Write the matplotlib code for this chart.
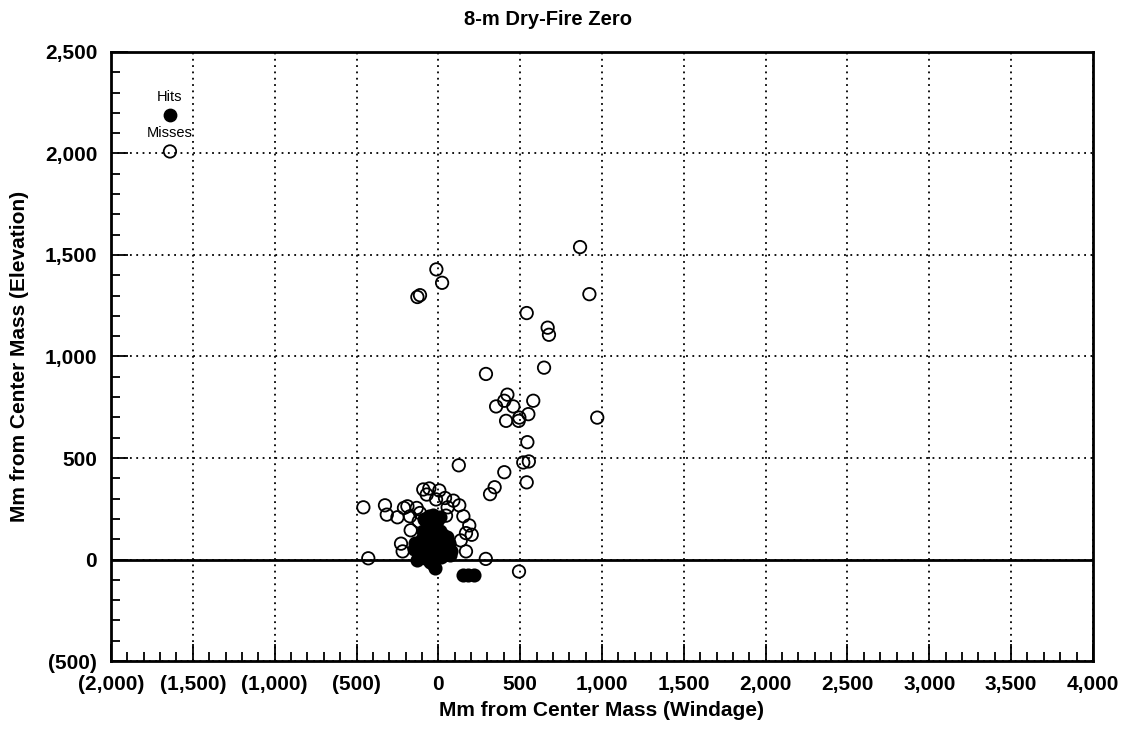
import matplotlib
matplotlib.use("Agg")
from matplotlib import pyplot as plt
from matplotlib.ticker import MultipleLocator, FuncFormatter

plt.rcParams['font.family'] = ['Liberation Sans', 'DejaVu Sans']
plt.rcParams['font.weight'] = 'bold'

# misses (open markers), windage / elevation in mm
miss_x = [866, -12, 23, -128, -112, 923, 540, 668, 676, 646, 291,
          422, 403, 353, 458, 580, 550, 495, 491, 414,
          971, 544, 519, 553, 125, 403, 540, 344, 316, 290, 493,
          -428, -458, -326, -315, -250, -210, -189, -132, -173, -228, -218,
          -169, -92, -55, -71, 6, -14, 41, 92, 128, 57, 47, 153, 189, 204,
          169, 137, 169, -112, -120]
miss_y = [1539, 1429, 1363, 1293, 1302, 1307, 1214, 1142, 1107, 945, 914,
          812, 782, 754, 754, 782, 716, 699, 683, 683,
          699, 578, 478, 483, 464, 430, 380, 356, 322, 3, -59,
          6, 257, 267, 221, 208, 254, 262, 254, 213, 78, 40,
          144, 345, 350, 320, 340, 296, 303, 290, 267, 257, 216, 213, 168, 122,
          130, 94, 40, 229, 188]

# hits (filled markers)
hit_x = [-120, -110, -100, -95, -90, -80, -75, -70, -65, -60, -55, -50, -45,
         -40, -35, -30, -25, -20, -15, -10, -5, 0, 5, 10, 15, 20, 25, 30, 35,
         40, 45, 50, 55, 60, 65, 70, 80, -130, -140, -150, -85, -30, 10, -20,
         -50, 150, 180, 215]
hit_y = [20, 60, 100, 140, 40, 5, 80, 120, 170, 215, 30, 60, 100,
         150, -20, 10, 45, 80, 120, 190, 30, 60, 100, 140, 10, 45, 80, 120, 20,
         60, 95, 30, 110, 50, 80, 20, 40, 0, 80, 50, 200, 220, 210, -40,
         -10, -78, -78, -78]

# legend drawn inside the plot, as in the original
legend_x = -1640
legend_hit_y = 2190
legend_miss_y = 2010


def paren_fmt(v, pos):
    if v < 0:
        return f"({abs(v):,.0f})"
    return f"{v:,.0f}"


fig = plt.figure(figsize=(11.34, 7.30), dpi=100)
ax = fig.add_axes([0.0979, 0.0945, 0.8659, 0.8343])

ax.grid(True, which='major', color='black', linestyle=(0, (1, 2.5)), linewidth=1.3)
ax.axhline(0, color='black', linewidth=2)

ax.scatter(hit_x, hit_y, s=80, marker='o', facecolors='black', edgecolors='black', linewidths=1.2, zorder=3)
ax.scatter(miss_x, miss_y, s=80, marker='o', facecolors='none', edgecolors='black', linewidths=1.3, zorder=4)

ax.scatter([legend_x], [legend_hit_y], s=80, marker='o', facecolors='black', edgecolors='black', zorder=4)
ax.scatter([legend_x], [legend_miss_y], s=80, marker='o', facecolors='none', edgecolors='black', linewidths=1.3, zorder=4)
ax.annotate('Hits', (legend_x, legend_hit_y), xytext=(0, 8), textcoords='offset points',
            ha='center', va='bottom', fontsize=10.5, fontweight='normal')
ax.annotate('Misses', (legend_x, legend_miss_y), xytext=(0, 8), textcoords='offset points',
            ha='center', va='bottom', fontsize=10.5, fontweight='normal')

ax.set_xlim(-2000, 4000)
ax.set_ylim(-500, 2500)
ax.xaxis.set_major_locator(MultipleLocator(500))
ax.xaxis.set_minor_locator(MultipleLocator(100))
ax.yaxis.set_major_locator(MultipleLocator(500))
ax.yaxis.set_minor_locator(MultipleLocator(100))
ax.xaxis.set_major_formatter(FuncFormatter(paren_fmt))
ax.yaxis.set_major_formatter(FuncFormatter(paren_fmt))
ax.tick_params(which='both', direction='in', top=False, right=False, width=1.3, labelsize=15, pad=10)
ax.tick_params(which='major', length=12)
ax.tick_params(which='minor', length=6.5)
ax.set_axisbelow(True)

for s in ax.spines.values():
    s.set_linewidth(2)

ax.set_xlabel('Mm from Center Mass (Windage)', fontsize=15, fontweight='bold')
ax.set_ylabel('Mm from Center Mass (Elevation)', fontsize=15, fontweight='bold')
ax.xaxis.set_label_coords(0.5, -0.0657)
ax.yaxis.set_label_coords(-0.084, 0.5)

fig.text(0.483, 0.973, '8-m Dry-Fire Zero', ha='center', va='center', fontsize=14.5, fontweight='bold')

fig.savefig('out.png', dpi=100)
